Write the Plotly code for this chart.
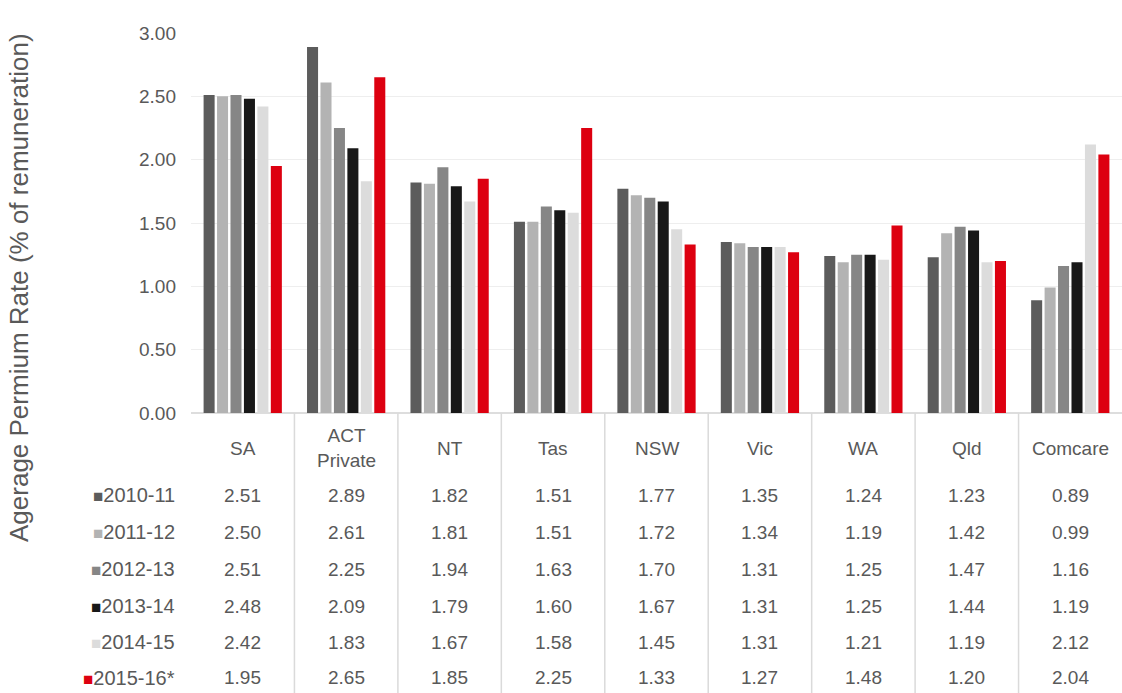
import plotly.graph_objects as go

categories = ["SA", "ACT Private", "NT", "Tas", "NSW", "Vic", "WA", "Qld", "Comcare"]
category_labels = ["SA", "ACT<br>Private", "NT", "Tas", "NSW", "Vic", "WA", "Qld", "Comcare"]
series_names = ["2010-11", "2011-12", "2012-13", "2013-14", "2014-15", "2015-16*"]

v_2010_11 = [2.51, 2.89, 1.82, 1.51, 1.77, 1.35, 1.24, 1.23, 0.89]
v_2011_12 = [2.50, 2.61, 1.81, 1.51, 1.72, 1.34, 1.19, 1.42, 0.99]
v_2012_13 = [2.51, 2.25, 1.94, 1.63, 1.70, 1.31, 1.25, 1.47, 1.16]
v_2013_14 = [2.48, 2.09, 1.79, 1.60, 1.67, 1.31, 1.25, 1.44, 1.19]
v_2014_15 = [2.42, 1.83, 1.67, 1.58, 1.45, 1.31, 1.21, 1.19, 2.12]
v_2015_16 = [1.95, 2.65, 1.85, 2.25, 1.33, 1.27, 1.48, 1.20, 2.04]
series_values = [v_2010_11, v_2011_12, v_2012_13, v_2013_14, v_2014_15, v_2015_16]

y_ticks = [0, 0.5, 1.0, 1.5, 2.0, 2.5, 3.0]
y_title = "Agerage Permium Rate (% of remuneration)"

colors = ["#5c5c5c", "#b3b3b3", "#868686", "#181818", "#dcdcdc", "#dd0010"]
text_color = "#595959"
font_family = "Liberation Sans, Arial, sans-serif"

W, H = 1122, 693
L, R, T, B = 191, 0, 33, 280
plot_w = W - L - R
plot_h = H - T - B
base_px = T + plot_h


def py(px):
    return (base_px - px) / plot_h


def pxx(px):
    return (px - L) / plot_w


fig = go.Figure()
for name, vals, col in zip(series_names, series_values, colors):
    fig.add_trace(go.Bar(x=categories, y=vals, name=name, marker=dict(color=col, line=dict(width=0))))

annotations = []
for cat, lab in zip(categories, category_labels):
    annotations.append(dict(x=cat, y=py(448), xref="x", yref="paper", text=lab, showarrow=False,
                            xanchor="center", yanchor="middle",
                            font=dict(size=19, color=text_color, family=font_family)))

row_px = [495, 532, 569, 606, 642, 678]
for i, (name, vals, col) in enumerate(zip(series_names, series_values, colors)):
    annotations.append(dict(x=pxx(177), y=py(row_px[i]), xref="paper", yref="paper",
                            text=f"<span style='color:{col};font-size:17px'>■</span>{name}",
                            showarrow=False, xanchor="right", yanchor="middle",
                            font=dict(size=20, color=text_color, family=font_family)))
    for cat, v in zip(categories, vals):
        annotations.append(dict(x=cat, y=py(row_px[i]), xref="x", yref="paper", text=f"{v:.2f}",
                                showarrow=False, xanchor="center", yanchor="middle",
                                font=dict(size=19, color=text_color, family=font_family)))

annotations.append(dict(x=pxx(19), y=py(288), xref="paper", yref="paper", text=y_title,
                        textangle=-90, showarrow=False, xanchor="center", yanchor="middle",
                        font=dict(size=26, color=text_color, family=font_family)))

shapes = []
for i in range(len(categories) - 1):
    shapes.append(dict(type="line", xref="x", yref="paper", x0=i + 0.5, x1=i + 0.5,
                       y0=0, y1=py(H), line=dict(color="#dadada", width=1.5)))

fig.update_layout(
    width=W, height=H,
    margin=dict(l=L, r=R, t=T, b=B, pad=0),
    paper_bgcolor="white", plot_bgcolor="white",
    barmode="group", bargap=0.22, bargroupgap=0.18,
    showlegend=False,
    font=dict(family=font_family, color=text_color),
    annotations=annotations, shapes=shapes,
    xaxis=dict(showticklabels=False, showgrid=False, zeroline=False, showline=False, ticks=""),
    yaxis=dict(range=[0, 3.0], tickvals=y_ticks, tickformat=".2f", showgrid=True,
               gridcolor="#eeeeee", gridwidth=1, zeroline=True, zerolinecolor="#dddddd",
               showline=False, ticks="", ticklabelstandoff=14,
               tickfont=dict(size=19, color=text_color, family=font_family)),
)

fig.write_html("out.html", config={"displayModeBar": False},
               post_script="document.body.style.margin='0px';document.body.style.overflow='hidden';")
